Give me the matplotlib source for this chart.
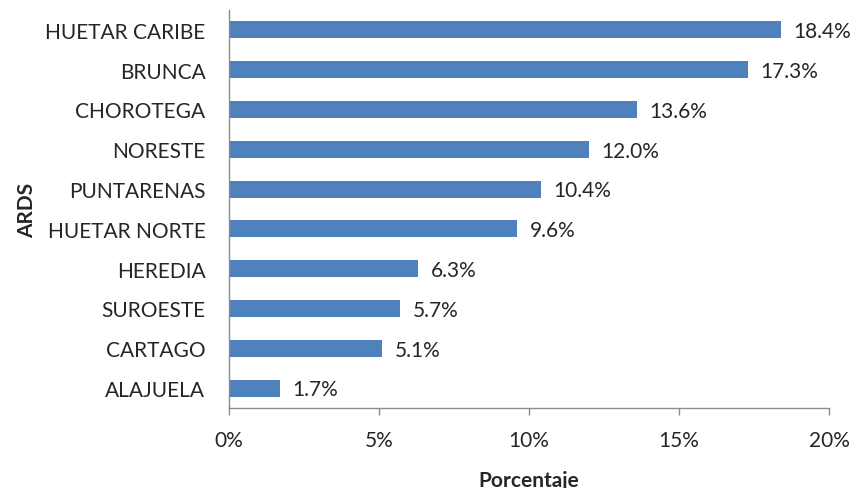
import matplotlib
matplotlib.use('Agg')
import matplotlib.pyplot as plt
from matplotlib.ticker import FuncFormatter

plt.rcParams['font.family'] = ['Lato', 'DejaVu Sans']

# Datos por ARDS (porcentaje)
regiones = ['ALAJUELA', 'CARTAGO', 'SUROESTE', 'HEREDIA', 'HUETAR NORTE',
            'PUNTARENAS', 'NORESTE', 'CHOROTEGA', 'BRUNCA', 'HUETAR CARIBE']
porcentajes = [1.7, 5.1, 5.7, 6.3, 9.6, 10.4, 12.0, 13.6, 17.3, 18.4]
ticks_x = [0, 5, 10, 15, 20]

fig = plt.figure(figsize=(8.57, 4.89), dpi=100)
ax = fig.add_axes([229 / 857, 80 / 489, 600 / 857, 398 / 489])

color_barra = '#4F81BD'
color_eje = '#8C8C8C'
color_texto = '#262626'
tam = 15

y = range(len(regiones))
ax.barh(y, porcentajes, height=0.43, color=color_barra)

for yi, v in zip(y, porcentajes):
    ax.annotate(f'{v:.1f}%', (v, yi), xytext=(9, -1), textcoords='offset points',
                ha='left', va='center', fontsize=tam, color=color_texto)

ax.set_xlim(0, 20)
ax.set_ylim(-0.5, len(regiones) - 0.5)
ax.set_xticks(ticks_x)
ax.xaxis.set_major_formatter(FuncFormatter(lambda v, p: f'{v:.0f}%'))
ax.set_yticks(list(y))
ax.set_yticklabels(regiones)

ax.tick_params(axis='x', length=5, width=1, color=color_eje, pad=11,
               labelsize=tam, labelcolor=color_texto)
ax.tick_params(axis='y', length=0, pad=17, labelsize=tam, labelcolor=color_texto)

for lado in ['top', 'right']:
    ax.spines[lado].set_visible(False)
for lado in ['left', 'bottom']:
    ax.spines[lado].set_color(color_eje)
    ax.spines[lado].set_linewidth(1)

ax.set_xlabel('Porcentaje', fontsize=tam, fontweight='bold', color=color_texto, labelpad=14)
ax.set_ylabel('ARDS', fontsize=tam, fontweight='bold', color=color_texto, labelpad=6)

fig.savefig('out.png', dpi=100)
